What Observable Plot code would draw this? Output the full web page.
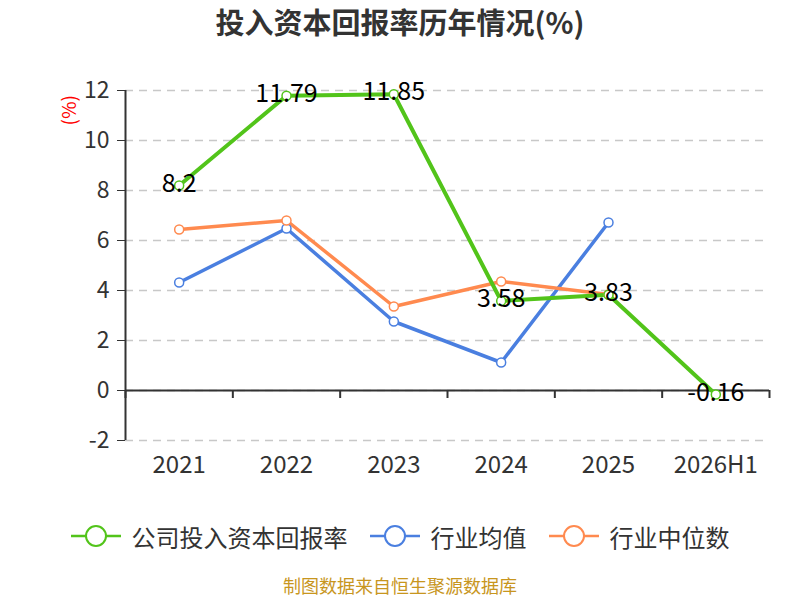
<!DOCTYPE html>
<html>
<head>
<meta charset="utf-8">
<script src="https://cdn.jsdelivr.net/npm/d3@7"></script>
<script src="https://cdn.jsdelivr.net/npm/@observablehq/plot@0.6"></script>
<style>
  body { margin: 0; background: #fff; font-family: "Noto Sans CJK SC", "Noto Sans", sans-serif; }
  #title { height: 50px; line-height: 42px; text-align: center; font-size: 29px; font-weight: bold; color: #333; }
  #chart svg { display: block; }
  #legend { height: 72px; display: flex; justify-content: center; align-items: center; gap: 22px; font-size: 24px; color: #333; }
  .item { display: flex; align-items: center; gap: 11px; }
  #caption { text-align: center; font-size: 18px; color: #c8961e; }
</style>
</head>
<body>
<div id="title">投入资本回报率历年情况(%)</div>
<div id="chart"></div>
<div id="legend"></div>
<div id="caption">制图数据来自恒生聚源数据库</div>
<script>
const categories = ["2021", "2022", "2023", "2024", "2025", "2026H1"];
const companyROIC = [8.2, 11.79, 11.85, 3.58, 3.83, -0.16];
const industryAvg = [4.32, 6.48, 2.76, 1.12, 6.72];
const industryMedian = [6.44, 6.8, 3.36, 4.36, 3.84];
const yTicks = [-2, 0, 2, 4, 6, 8, 10, 12];
const seriesNames = ["公司投入资本回报率", "行业均值", "行业中位数"];
const colors = ["#52c41a", "#4a7fe0", "#ff8a4f"];

const toRows = arr => arr.map((v, i) => ({i, v}));
const company = toRows(companyROIC);
const avg = toRows(industryAvg);
const med = toRows(industryMedian);
const boundaries = d3.range(categories.length + 1).map(k => k - 0.5);

const chart = Plot.plot({
  width: 800,
  height: 450,
  marginTop: 40,
  marginBottom: 60,
  marginLeft: 125,
  marginRight: 31,
  style: {fontFamily: '"Noto Sans CJK SC", "Noto Sans", sans-serif', background: "#fff"},
  x: {domain: [-0.5, categories.length - 0.5]},
  y: {domain: [-2, 12]},
  marks: [
    Plot.gridY(yTicks, {stroke: "#c8c8c8", strokeOpacity: 1, strokeWidth: 1.5, strokeDasharray: "8,6"}),
    Plot.axisY({ticks: yTicks, tickSize: 8, tickPadding: 8, fontSize: 23, color: "#333", label: null, tickFormat: d => String(d)}),
    Plot.axisX({ticks: d3.range(categories.length), tickFormat: i => categories[i], tickSize: 0, tickPadding: 15, fontSize: 24, color: "#333", label: null}),
    Plot.ruleX([-0.5], {y1: -2, y2: 12, stroke: "#333", strokeWidth: 2}),
    Plot.ruleY([0], {x1: -0.5, x2: categories.length - 0.5, stroke: "#333", strokeWidth: 2}),
    Plot.ruleX(boundaries, {x: d => d, y1: 0, y2: -0.32, stroke: "#333", strokeWidth: 2}),
    Plot.text(["(%)"], {frameAnchor: "top-left", dx: -63, dy: 35, rotate: -90, fill: "red", fontSize: 19}),
    Plot.line(avg, {x: "i", y: "v", stroke: colors[1], strokeWidth: 3.5}),
    Plot.line(med, {x: "i", y: "v", stroke: colors[2], strokeWidth: 3.5}),
    Plot.line(company, {x: "i", y: "v", stroke: colors[0], strokeWidth: 4}),
    Plot.dot(avg, {x: "i", y: "v", r: 4.5, fill: "#fff", stroke: colors[1], strokeWidth: 1.5}),
    Plot.dot(med, {x: "i", y: "v", r: 4.5, fill: "#fff", stroke: colors[2], strokeWidth: 1.5}),
    Plot.dot(company, {x: "i", y: "v", r: 4.5, fill: "#fff", stroke: colors[0], strokeWidth: 1.5}),
    Plot.text(company, {x: "i", y: "v", text: d => String(d.v), dy: -2, fontSize: 25, fill: "#000"})
  ]
});
document.getElementById("chart").appendChild(chart);

const legend = document.getElementById("legend");
seriesNames.forEach((name, k) => {
  const item = document.createElement("div");
  item.className = "item";
  item.innerHTML = `<svg width="50" height="26"><line x1="0" y1="13" x2="50" y2="13" stroke="${colors[k]}" stroke-width="2.5"/><circle cx="25" cy="13" r="10" fill="#fff" stroke="${colors[k]}" stroke-width="2"/></svg><span>${name}</span>`;
  legend.appendChild(item);
});
</script>
</body>
</html>
